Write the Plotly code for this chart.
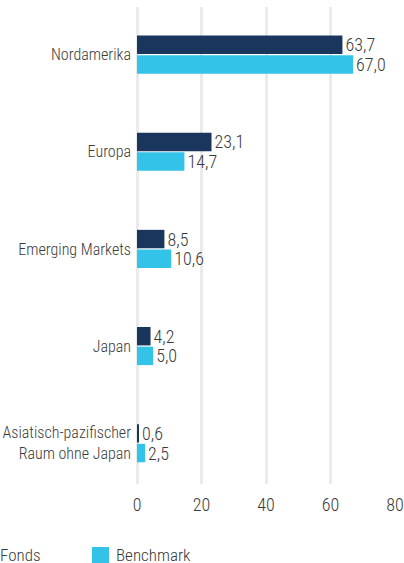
import plotly.graph_objects as go

categories = ["Nordamerika", "Europa", "Emerging Markets", "Japan",
              "Asiatisch-pazifischer<br>Raum ohne Japan"]
fonds = [63.7, 23.1, 8.5, 4.2, 0.6]
benchmark = [67.0, 14.7, 10.6, 5.0, 2.5]
series_names = ["Fonds", "Benchmark"]
x_ticks = [0, 20, 40, 60, 80]

navy = "#1b365d"
cyan = "#33c3e8"
textc = "#3a3a3a"
font_family = "Roboto Condensed, DejaVu Sans Condensed, sans-serif"
wt = 300

W, H = 404, 563
ml, mr, mt, mb = 137, 9, 7, 79
pw, ph = W - ml - mr, H - mt - mb

fig = go.Figure()
for name, vals, col in [(series_names[0], fonds, navy), (series_names[1], benchmark, cyan)]:
    fig.add_trace(go.Bar(
        y=categories, x=vals, name=name, orientation="h",
        marker=dict(color=col, line=dict(width=0)),
        texttemplate="%{x:.1f}", textposition="outside",
        textfont=dict(size=18, color=textc, family=font_family, weight=wt),
        constraintext="none", cliponaxis=False, showlegend=False,
        hoverinfo="x+y+name",
    ))

grid = "#ebebeb"
fig.update_layout(
    width=W, height=H, margin=dict(l=ml, r=mr, t=mt, b=mb, autoexpand=False),
    barmode="group", bargap=0.595, bargroupgap=0.063,
    separators=", ",
    plot_bgcolor="white", paper_bgcolor="white",
    font=dict(family=font_family, size=16, color=textc, weight=wt),
    xaxis=dict(range=[0, 80], tickvals=x_ticks, showgrid=True, gridcolor=grid,
               gridwidth=3, zeroline=True, zerolinecolor=grid, zerolinewidth=3,
               showline=False, ticks="", ticklabelstandoff=8, automargin=False,
               tickfont=dict(size=18, color=textc, family=font_family, weight=wt)),
    yaxis=dict(range=[4.42, -0.49], showgrid=False, zeroline=False, showline=False,
               ticks="", ticklabelstandoff=5, automargin=False,
               tickfont=dict(size=16, color=textc, family=font_family, weight=wt)),
)

# custom legend (swatch + label), positioned in paper coords
def px_to_px(px):
    return (px - ml) / pw

def py_to_py(py):
    return (mt + ph - py) / ph

legend_items = [(series_names[0], navy, -24), (series_names[1], cyan, 92)]
for name, col, x0 in legend_items:
    fig.add_shape(type="rect", xref="paper", yref="paper",
                  x0=px_to_px(x0), x1=px_to_px(x0 + 17),
                  y0=py_to_py(564), y1=py_to_py(547),
                  fillcolor=col, line=dict(width=0), layer="above")
    fig.add_annotation(xref="paper", yref="paper", x=px_to_px(x0 + 22), y=py_to_py(555),
                       xanchor="left", yanchor="middle", text=name, showarrow=False,
                       font=dict(size=17, color=textc, family=font_family, weight=wt))

fig.write_html("out.html")
